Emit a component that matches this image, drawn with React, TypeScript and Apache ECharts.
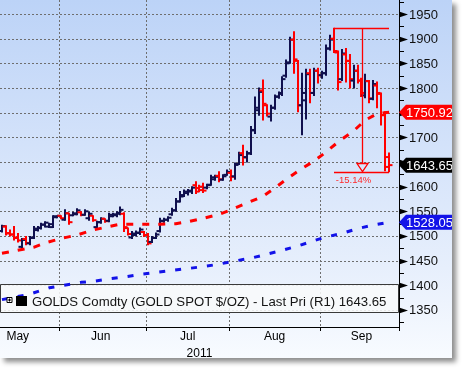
import React, { useEffect, useRef } from "react";
import * as echarts from "echarts";

// ---------- data ----------
const dates = [
  "05-11","05-12","05-13","05-16","05-17","05-18","05-19","05-20","05-23","05-24","05-25","05-26","05-27","05-30","05-31",
  "06-01","06-02","06-03","06-06","06-07","06-08","06-09","06-10","06-13","06-14","06-15","06-16","06-17","06-20","06-21","06-22","06-23","06-24","06-27","06-28","06-29","06-30",
  "07-01","07-04","07-05","07-06","07-07","07-08","07-11","07-12","07-13","07-14","07-15","07-18","07-19","07-20","07-21","07-22","07-25","07-26","07-27","07-28","07-29",
  "08-01","08-02","08-03","08-04","08-05","08-08","08-09","08-10","08-11","08-12","08-15","08-16","08-17","08-18","08-19","08-22","08-23","08-24","08-25","08-26","08-29","08-30","08-31",
  "09-01","09-02","09-05","09-06","09-07","09-08","09-09","09-12","09-13","09-14","09-15","09-16","09-19","09-20","09-21","09-22","09-23","09-26","09-27","09-28",
];

const openP = [
  1510,1519,1506,1503,1497,1478,1494,1485,1497,1512,1516,1523,1519,1518,1538,
  1541,1533,1546,1542,1544,1548,1543,1536,1541,1518,1528,1535,1531,1540,1542,1545,1545,1516,1497,1502,1506,1508,
  1502,1488,1496,1510,1530,1533,1544,1552,1570,1583,1587,1590,1603,1597,1600,1598,1604,1615,1622,1614,1624,
  1628,1621,1646,1668,1660,1667,1714,1755,1795,1765,1742,1760,1783,1790,1825,1852,1898,1855,1765,1775,1830,1790,1835,
  1826,1830,1880,1900,1872,1818,1868,1855,1815,1835,1815,1785,1814,1778,1805,1788,1745,1660,
];
const highP = [
  1522,1521,1512,1519,1505,1495,1499,1499,1519,1519,1526,1529,1526,1541,1541,
  1541,1553,1546,1548,1555,1549,1553,1548,1541,1530,1537,1535,1546,1546,1549,1559,1547,1516,1509,1510,1516,1509,
  1505,1499,1506,1536,1536,1539,1556,1576,1590,1593,1594,1600,1610,1603,1607,1605,1623,1623,1630,1624,1634,
  1634,1648,1670,1684,1672,1722,1782,1800,1816,1766,1765,1786,1792,1823,1857,1903,1914,1856,1830,1838,1838,1840,1840,
  1834,1887,1907,1921.15,1875,1878,1880,1868,1846,1846,1820,1828,1815,1815,1812,1790,1752,1668,
];
const lowP = [
  1508,1502,1500,1492,1488,1475,1482,1482,1495,1510,1514,1518,1517,1517,1537,
  1535,1532,1524,1541,1543,1541,1542,1532,1530,1516,1526,1528,1529,1539,1539,1543,1509,1502,1495,1500,1503,1499,
  1482,1487,1495,1508,1528,1530,1542,1550,1569,1580,1583,1586,1586,1590,1588,1596,1603,1613,1610,1613,1623,
  1612,1615,1645,1644,1650,1665,1708,1745,1735,1743,1733,1757,1779,1785,1822,1850,1830,1752,1705,1737,1770,1785,1810,
  1820,1826,1877,1872,1796,1815,1812,1800,1800,1810,1783,1780,1770,1776,1760,1725,1632,1630.3,
];
const closeP = [
  1520,1505,1503,1496,1491,1492,1486,1496,1515,1517,1523,1527,1524,1540,1541,
  1536,1546,1528,1546,1552,1543,1550,1545,1532,1528,1535,1530,1543,1544,1547,1553,1518,1504,1505,1507,1513,1502,
  1485,1496,1503,1531,1533,1537,1552,1570,1580,1590,1592,1598,1590,1593,1592,1603,1619,1620,1615,1621,1630,
  1620,1644,1664,1659,1668,1715,1760,1792,1768,1748,1760,1782,1788,1818,1850,1898,1858,1765,1790,1828,1790,1835,1826,
  1830,1880,1898,1875,1812,1870,1855,1818,1835,1815,1790,1814,1779,1808,1790,1745,1640,1643.65,
];

// 50-day moving average (red) sampled at trading-day indexes
const redMaIdx = [0,2,4,8,11,15,19,23,27,30,35,40,44,47,51,55,58,62,66,69,72,75,79,82,85,89,92,95,98];
const redMaVal = [1465,1468,1471,1477,1486,1495,1502,1512,1519,1524,1524,1524,1525,1529,1536,1544,1553,1567,1580,1597,1615,1632,1652,1670,1690,1713,1735,1748,1750.92];
// 200-day moving average (blue)
const blueMaIdx = [0,7,12,20,23,27,31,35,39,43,47,51,55,58,63,67,71,75,78,82,86,90,94,98];
const blueMaVal = [1371,1382,1395,1406,1408,1413,1417,1422,1426,1430,1434,1438,1443,1448,1455,1463,1471,1480,1488,1498,1505,1515,1522,1528.05];

// major gridline values; labels hidden under the price tags (1650, 1750) are not printed
const yMajorValues = [1350,1400,1450,1500,1550,1600,1650,1700,1750,1800,1850,1900,1950];
const yLabelValues = [1350,1400,1450,1500,1550,1600,1700,1800,1850,1900,1950];
const yMinorValues = [1325,1375,1425,1475,1525,1575,1625,1675,1725,1775,1825,1875,1925,1975];
const monthNames = ["May","Jun","Jul","Aug","Sep"];
const monthLabelDates = ["05-17","06-15","07-15","08-16","09-15"];
const yearLabel = "2011";
const legendText = "GOLDS Comdty (GOLD SPOT $/OZ) - Last Pri (R1) 1643.65";
const measureFrom = "09-06";
const measureTo = "09-26";
const measureHigh = 1921.15;
const measureLow = 1630.3;

// ---------- styles ----------
const FONT = "'Liberation Sans', Arial, sans-serif";
const NAVY = "#10104e";
const RED = "#ff0000";
const BLUE = "#1212e8";
const GRID = "#6e6e6e";

export default function App() {
  const ref = useRef<HTMLDivElement>(null);
  useEffect(() => {
    if (!ref.current) return;
    const chart = echarts.init(ref.current, undefined, { renderer: "svg" });

    const ohlc = openP.map((o, i) => [i, o, highP[i], lowP[i], closeP[i]]);
    const redData = redMaIdx.map((k, j) => [k, redMaVal[j]]);
    const blueData = blueMaIdx.map((k, j) => [k, blueMaVal[j]]);
    const lastIdx = closeP.length - 1;
    const tags = [
      [lastIdx, redMaVal[redMaVal.length - 1], 0],
      [lastIdx, closeP[lastIdx], 1],
      [lastIdx, blueMaVal[blueMaVal.length - 1], 2],
    ];
    const tagColors = [RED, "#000000", BLUE];
    const isMonthStart = (i: number) =>
      i > 0 && dates[i].slice(0, 2) !== dates[i - 1].slice(0, 2);
    const labelSet = new Set(monthLabelDates);

    const option: any = {
      animation: false,
      backgroundColor: "transparent",
      grid: { left: 0, top: 0, width: 399, height: 327, outerBoundsMode: "none", containLabel: false },
      xAxis: {
        type: "category",
        data: dates,
        boundaryGap: true,
        axisLine: { show: true, lineStyle: { color: "#000", width: 1 } },
        axisTick: { show: true, interval: (i: number) => isMonthStart(i), length: 4, lineStyle: { color: "#000" } },
        axisLabel: {
          interval: (i: number, v: string) => labelSet.has(v),
          formatter: (v: string) => monthNames[monthLabelDates.indexOf(v)] ?? "",
          fontSize: 12,
          fontFamily: FONT,
          color: "#000",
          margin: 3,
        },
        splitLine: {
          show: true,
          interval: (i: number) => isMonthStart(i),
          lineStyle: { color: GRID, type: [2, 2], width: 1 },
        },
        name: yearLabel,
        nameLocation: "middle",
        nameGap: 16,
        nameTextStyle: { fontSize: 12, fontFamily: FONT, color: "#000" },
      },
      yAxis: {
        type: "value",
        position: "right",
        min: 1315.5,
        max: 1978.4,
        axisLine: { show: true, lineStyle: { color: "#000", width: 1 } },
        axisTick: { show: false },
        splitLine: { show: false },
        axisLabel: {
          customValues: yLabelValues,
          formatter: (v: number) => String(v),
          margin: 10,
          fontSize: 13,
          fontFamily: FONT,
          color: "#111",
        },
      },
      graphic: {
        elements: [
          { type: "rect", z: 1, shape: { x: 0.5, y: 284.5, width: 398, height: 28 }, style: { fill: "rgba(248,249,251,0.88)", stroke: "#3a3a3a", lineWidth: 1 } },
          { type: "rect", z: 6, shape: { x: 7, y: 297.5, width: 5, height: 5 }, style: { fill: "#fff", stroke: "#000", lineWidth: 1 } },
          { type: "line", z: 6, shape: { x1: 8, y1: 300, x2: 11, y2: 300 }, style: { stroke: "#000", lineWidth: 1 } },
          { type: "line", z: 6, shape: { x1: 9.5, y1: 298.5, x2: 9.5, y2: 301.5 }, style: { stroke: "#000", lineWidth: 1 } },
          { type: "rect", z: 6, shape: { x: 16, y: 296, width: 11, height: 10 }, style: { fill: "#000" } },
          { type: "text", z: 6, x: 32, y: 301, style: { text: legendText, fontSize: 13.2, fontFamily: FONT, fill: "#141414", verticalAlign: "middle", align: "left" } },
        ],
      },
      series: [
        {
          type: "custom",
          name: "hgrid",
          z: 0,
          silent: true,
          data: yMajorValues.map((v) => [0, v]),
          encode: { x: 0, y: 1 },
          renderItem: (params: any, api: any) => {
            const cs = params.coordSys;
            const y = Math.round(api.coord([0, api.value(1)])[1]) + 0.5;
            const R = cs.x + cs.width;
            const children: any[] = [];
            if (y > cs.y + 1 && y < cs.y + cs.height - 1) {
              children.push({ type: "line", shape: { x1: cs.x, y1: y, x2: R, y2: y }, style: { stroke: GRID, lineWidth: 1, lineDash: [2, 2] } });
            }
            children.push({ type: "polygon", shape: { points: [[R, y - 3], [R + 9, y], [R, y + 3]] }, style: { fill: "#000" } });
            return { type: "group", children };
          },
        },
        {
          type: "custom",
          name: "minorTicks",
          z: 5,
          silent: true,
          data: yMinorValues.map((v) => [0, v]),
          encode: { x: 0, y: 1 },
          renderItem: (params: any, api: any) => {
            const cs = params.coordSys;
            const y = Math.round(api.coord([0, api.value(1)])[1]) + 0.5;
            const R = cs.x + cs.width;
            return { type: "line", shape: { x1: R, y1: y, x2: R + 5, y2: y }, style: { stroke: "#000", lineWidth: 1 } };
          },
        },
        {
          type: "custom",
          name: "GOLDS",
          z: 3,
          data: ohlc,
          encode: { x: 0, y: [1, 2, 3, 4] },
          renderItem: (params: any, api: any) => {
            const i = api.value(0);
            const o = api.coord([i, api.value(1)]);
            const h = api.coord([i, api.value(2)]);
            const l = api.coord([i, api.value(3)]);
            const c = api.coord([i, api.value(4)]);
            const x = Math.round(o[0]);
            const color = api.value(4) < api.value(1) ? RED : NAVY;
            const st = { stroke: color, lineWidth: 2 };
            return {
              type: "group",
              children: [
                { type: "line", shape: { x1: x, y1: h[1] - 0.5, x2: x, y2: l[1] + 0.5 }, style: st },
                { type: "line", shape: { x1: x - 3.5, y1: o[1], x2: x, y2: o[1] }, style: st },
                { type: "line", shape: { x1: x, y1: c[1], x2: x + 3.5, y2: c[1] }, style: st },
              ],
            };
          },
        },
        {
          type: "line",
          name: "MA50",
          z: 4,
          data: redData,
          symbol: "none",
          smooth: false,
          connectNulls: true,
          lineStyle: { color: RED, width: 3, type: [7, 9], cap: "butt" },
        },
        {
          type: "line",
          name: "MA200",
          z: 4,
          data: blueData,
          symbol: "none",
          smooth: false,
          connectNulls: true,
          lineStyle: { color: BLUE, width: 3, type: [6, 10], cap: "butt" },
        },
        {
          type: "custom",
          name: "measure",
          z: 5,
          silent: true,
          data: [[dates.indexOf(measureFrom), measureHigh, dates.indexOf(measureTo), measureLow]],
          encode: { x: [0, 2], y: [1, 3] },
          renderItem: (params: any, api: any) => {
            const p1 = api.coord([api.value(0), api.value(1)]);
            const p2 = api.coord([api.value(2), api.value(3)]);
            const x1 = Math.round(p1[0]);
            const x2 = Math.round(p2[0]);
            const yH = Math.round(p1[1]) + 0.5;
            const yL = Math.round(p2[1]) + 0.5;
            const xm = Math.round((x1 + x2) / 2) + 0.5;
            const pct = ((api.value(3) / api.value(1) - 1) * 100).toFixed(2) + "%";
            const st = { stroke: RED, lineWidth: 1.3 };
            return {
              type: "group",
              children: [
                { type: "line", shape: { x1, y1: yH, x2, y2: yH }, style: st },
                { type: "line", shape: { x1, y1: yL, x2, y2: yL }, style: st },
                { type: "line", shape: { x1: xm, y1: yH, x2: xm, y2: yL - 9 }, style: st },
                { type: "polygon", shape: { points: [[xm - 5.5, yL - 9], [xm + 5.5, yL - 9], [xm, yL - 1]] }, style: { fill: "none", stroke: RED, lineWidth: 1.3 } },
                { type: "text", x: xm - 9, y: yL + 6.5, style: { text: pct, fill: "#ff2a2a", fontSize: 9.5, fontFamily: FONT, align: "center", verticalAlign: "middle" } },
              ],
            };
          },
        },
        {
          type: "custom",
          name: "tags",
          z: 6,
          silent: true,
          data: tags,
          encode: { x: 0, y: 1 },
          renderItem: (params: any, api: any) => {
            const cs = params.coordSys;
            const R = cs.x + cs.width;
            const v = api.value(1);
            const y = api.coord([0, v])[1];
            const col = tagColors[api.value(2)];
            return {
              type: "group",
              children: [
                { type: "polygon", shape: { points: [[R, y], [R + 7, y - 7.5], [R + 70, y - 7.5], [R + 70, y + 7.5], [R + 7, y + 7.5]] }, style: { fill: col } },
                { type: "text", x: R + 7, y: y + 0.5, style: { text: v.toFixed(2), fill: "#fff", fontSize: 13, fontFamily: FONT, align: "left", verticalAlign: "middle" } },
              ],
            };
          },
        },
      ],
    };
    chart.setOption(option);
    return () => chart.dispose();
  }, []);

  return (
    <div
      style={{
        position: "fixed",
        left: 0,
        top: 0,
        width: 452,
        height: 358,
        background: "linear-gradient(180deg, #bcd3f7 0%, #d3e2fa 40%, #e7effc 75%, #f8fbff 100%)",
        boxShadow: "4px 4px 5px rgba(0,0,0,0.45)",
      }}
    >
      <div ref={ref} style={{ width: 452, height: 371 }} />
    </div>
  );
}
